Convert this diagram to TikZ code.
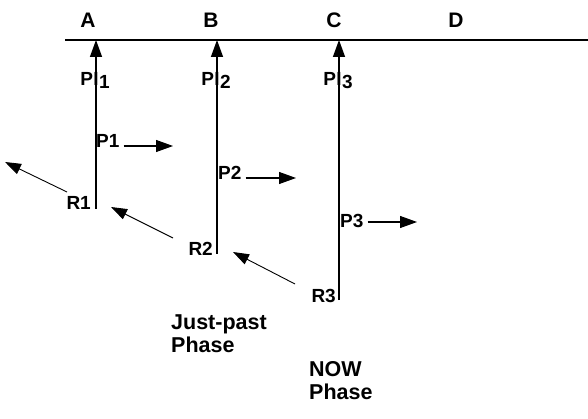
\documentclass[tikz,border=0pt]{standalone}
\usepackage{fontspec}
\setmainfont{Liberation Sans}
\usetikzlibrary{arrows.meta}
\begin{document}
\begin{tikzpicture}[x=1pt,y=-1pt,
  hd/.style={font=\fontsize{21}{24}\selectfont\bfseries, inner sep=0pt},
  lbl/.style={font=\fontsize{19}{22}\selectfont\bfseries, inner sep=0pt},
  ph/.style={font=\fontsize{21.5}{23}\selectfont\bfseries, inner sep=0pt, align=left, anchor=north west},
  up/.style={line width=1.4pt, -{Triangle[length=17pt,width=12pt]}},
  rt/.style={line width=1.1pt, -{Triangle[length=17pt,width=12pt]}},
  dg/.style={line width=0.9pt, -{Triangle[length=16pt,width=11pt]}}]
\useasboundingbox (0,0) rectangle (588,419);
% time axis
\coordinate (L) at (65,40);
\coordinate (Rt) at (588,40);
\draw[line width=1.6pt] (L) -- (Rt);
\node[hd] (A) at (88,20) {A};
\node[hd] (B) at (211,20) {B};
\node[hd] (C) at (334,20) {C};
\node[hd] (D) at (456,20) {D};
% vertical lines
\coordinate (ta) at (96,40);  \coordinate (ba) at (96,209);
\coordinate (tb) at (217,40); \coordinate (bb) at (217,254);
\coordinate (tc) at (339,40); \coordinate (bc) at (339,300);
\draw[up] (ba) -- (ta);
\draw[up] (bb) -- (tb);
\draw[up] (bc) -- (tc);
% PI labels
\node[lbl,anchor=base] (pi1) at (96,86) {I};
\node[lbl,anchor=base east] at (pi1.base west) {P};
\node[lbl,anchor=base west] at ([yshift=-3pt]pi1.base east) {1};
\node[lbl,anchor=base] (pi2) at (217,86) {I};
\node[lbl,anchor=base east] at (pi2.base west) {P};
\node[lbl,anchor=base west] at ([yshift=-3pt]pi2.base east) {2};
\node[lbl,anchor=base] (pi3) at (339,86) {I};
\node[lbl,anchor=base east] at (pi3.base west) {P};
\node[lbl,anchor=base west] at ([yshift=-3pt]pi3.base east) {3};
% P labels and arrows
\node[lbl,anchor=base west] (p1) at (96,148) {P1};
\coordinate (p1e) at (173,146);
\draw[rt] ([xshift=4pt]p1.east |- p1e) -- (p1e);
\node[lbl,anchor=base west] (p2) at (218,180) {P2};
\coordinate (p2e) at (296,178);
\draw[rt] ([xshift=4pt]p2.east |- p2e) -- (p2e);
\node[lbl,anchor=base west] (p3) at (340,228) {P3};
\coordinate (p3e) at (417,222);
\draw[rt] ([xshift=4pt]p3.east |- p3e) -- (p3e);
% R labels and arrows
\node[lbl,anchor=base east] (r1) at (91,210) {R1};
\node[lbl,anchor=base east] (r2) at (213,255) {R2};
\node[lbl,anchor=base east] (r3) at (336,302) {R3};
\coordinate (r1s) at (67,192); \coordinate (r1t) at (5,162);
\coordinate (r2s) at (173,238); \coordinate (r2t) at (111,207);
\coordinate (r3s) at (295,284); \coordinate (r3t) at (233,252);
\draw[dg] (r1s) -- (r1t);
\draw[dg] (r2s) -- (r2t);
\draw[dg] (r3s) -- (r3t);
% phases
\node[ph] (jp) at (171,315) {Just-past\\Phase};
\node[ph] (now) at (309,361) {NOW\\Phase};
\end{tikzpicture}
\end{document}
